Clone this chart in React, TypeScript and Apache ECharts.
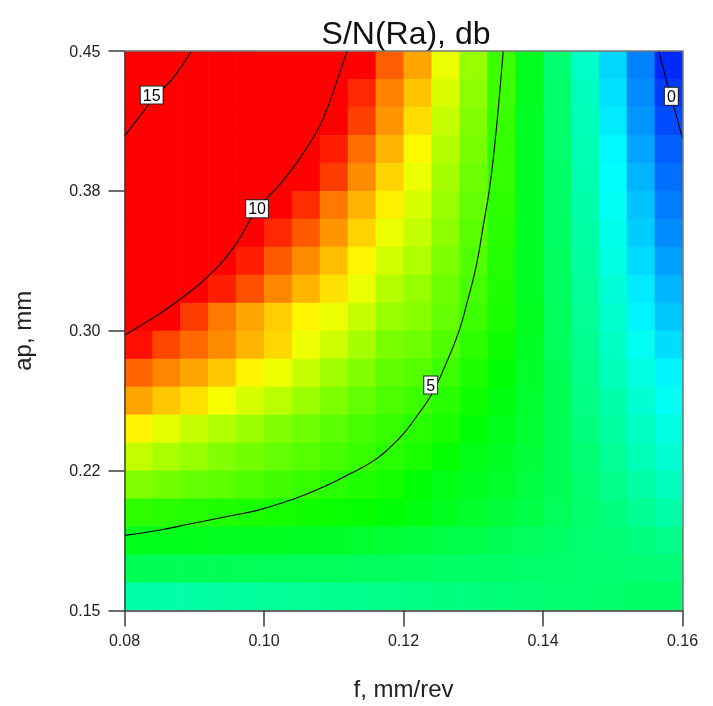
import React, { useEffect, useRef } from "react";
import * as echarts from "echarts";

// Grid of cell centres (feed f in mm/rev, depth of cut ap in mm); rows listed top (ap high) to bottom
const fCenters = [0.082, 0.086, 0.09, 0.094, 0.098, 0.102, 0.106, 0.11, 0.114, 0.118, 0.122, 0.126, 0.13, 0.134, 0.138, 0.142, 0.146, 0.15, 0.154, 0.158];
const apCenters = [0.4425, 0.4275, 0.4125, 0.3975, 0.3825, 0.3675, 0.3525, 0.3375, 0.3225, 0.3075, 0.2925, 0.2775, 0.2625, 0.2475, 0.2325, 0.2175, 0.2025, 0.1875, 0.1725, 0.1575];

// S/N(Ra) in dB for every cell, one row per apCenters entry
const snRows = [
  [16.4, 15.5, 14.6, 13.75, 12.9, 12.0, 11.1, 10.25, 9.7, 8.66, 7.97, 6.88, 6.04, 5.14, 4.25, 3.46, 2.57, 1.63, 0.79, -0.1],
  [15.6, 14.8, 14.0, 13.2, 12.4, 11.6, 10.8, 9.97, 9.2, 8.31, 7.67, 6.68, 5.94, 5.14, 4.25, 3.51, 2.67, 1.73, 0.89, 0.09],
  [14.95, 14.2, 13.45, 12.7, 11.95, 11.2, 10.45, 9.7, 8.96, 8.12, 7.42, 6.48, 5.84, 5.09, 4.2, 3.51, 2.72, 1.83, 0.99, 0.24],
  [14.3, 13.6, 12.9, 12.15, 11.45, 10.7, 10.0, 9.3, 8.51, 7.82, 7.13, 6.33, 5.74, 5.05, 4.2, 3.51, 2.77, 1.98, 1.13, 0.44],
  [13.6, 12.9, 12.25, 11.55, 10.85, 10.2, 9.65, 9.01, 8.21, 7.52, 6.88, 6.18, 5.64, 5.05, 4.2, 3.56, 2.82, 2.03, 1.28, 0.59],
  [12.9, 12.25, 11.6, 10.95, 10.3, 9.7, 9.15, 8.41, 7.82, 7.22, 6.68, 6.04, 5.54, 5.0, 4.2, 3.56, 2.87, 2.12, 1.43, 0.74],
  [12.25, 11.65, 11.05, 10.45, 9.85, 9.2, 8.71, 8.12, 7.52, 6.88, 6.48, 5.94, 5.44, 4.95, 4.2, 3.56, 2.92, 2.22, 1.53, 0.89],
  [11.55, 11.0, 10.5, 9.99, 9.3, 8.71, 8.21, 7.72, 7.17, 6.63, 6.28, 5.79, 5.34, 4.9, 4.2, 3.61, 2.97, 2.32, 1.68, 1.08],
  [10.85, 10.4, 9.97, 9.3, 8.81, 8.26, 7.82, 7.37, 6.88, 6.33, 6.04, 5.64, 5.24, 4.85, 4.2, 3.61, 3.02, 2.42, 1.83, 1.28],
  [10.25, 9.75, 9.01, 8.41, 7.97, 7.57, 7.17, 6.88, 6.53, 6.04, 5.89, 5.54, 5.14, 4.8, 4.25, 3.66, 3.07, 2.52, 1.93, 1.48],
  [9.45, 8.91, 8.56, 8.21, 7.82, 7.47, 6.93, 6.58, 6.18, 5.74, 5.64, 5.34, 5.0, 4.7, 4.2, 3.66, 3.11, 2.62, 2.17, 1.7],
  [8.61, 8.26, 7.97, 7.62, 7.17, 6.93, 6.53, 6.13, 5.84, 5.49, 5.39, 5.14, 4.85, 4.5, 4.15, 3.71, 3.21, 2.72, 2.32, 1.95],
  [7.97, 7.62, 7.37, 6.98, 6.68, 6.38, 6.08, 5.79, 5.54, 5.29, 5.14, 4.95, 4.7, 4.4, 4.1, 3.71, 3.26, 2.87, 2.47, 2.12],
  [7.17, 6.83, 6.53, 6.28, 6.08, 5.84, 5.64, 5.44, 5.24, 5.09, 4.95, 4.8, 4.5, 4.3, 4.05, 3.71, 3.31, 2.97, 2.62, 2.32],
  [6.48, 6.23, 6.04, 5.84, 5.69, 5.54, 5.39, 5.24, 5.09, 4.95, 4.8, 4.6, 4.35, 4.2, 4.0, 3.71, 3.41, 3.07, 2.77, 2.47],
  [5.84, 5.69, 5.54, 5.44, 5.34, 5.19, 5.09, 4.95, 4.85, 4.75, 4.5, 4.35, 4.25, 4.1, 3.96, 3.71, 3.46, 3.17, 2.92, 2.67],
  [5.0, 4.95, 4.9, 4.85, 4.8, 4.75, 4.7, 4.65, 4.6, 4.5, 4.4, 4.25, 4.12, 4.0, 3.86, 3.68, 3.5, 3.3, 3.1, 2.9],
  [4.3, 4.28, 4.26, 4.24, 4.22, 4.2, 4.17, 4.13, 4.08, 4.02, 3.95, 3.88, 3.8, 3.72, 3.64, 3.55, 3.46, 3.37, 3.28, 3.2],
  [3.72, 3.72, 3.71, 3.7, 3.69, 3.68, 3.67, 3.66, 3.64, 3.62, 3.6, 3.58, 3.56, 3.54, 3.52, 3.5, 3.47, 3.44, 3.41, 3.38],
  [2.87, 2.9, 2.93, 2.97, 3.0, 3.04, 3.08, 3.12, 3.16, 3.2, 3.24, 3.28, 3.32, 3.36, 3.4, 3.44, 3.47, 3.5, 3.53, 3.55],
];

// Contour lines: [f, ap] points
const contour15 = [[0.0896, 0.45], [0.087, 0.4357], [0.0845, 0.4259], [0.0822, 0.4151], [0.08, 0.4044]];
const contour10 = [[0.1119, 0.45], [0.1105, 0.4344], [0.1086, 0.4147], [0.1074, 0.4058], [0.1053, 0.3933], [0.1024, 0.379], [0.099, 0.365], [0.0957, 0.345], [0.0919, 0.3289], [0.0881, 0.3173], [0.0847, 0.3083], [0.0816, 0.3012], [0.08, 0.2976]];
const contour5 = [[0.1343, 0.45], [0.1337, 0.4237], [0.133, 0.3969], [0.1323, 0.3754], [0.1315, 0.3577], [0.1304, 0.3342], [0.1292, 0.3164], [0.128, 0.3003], [0.1263, 0.2842], [0.1241, 0.2663], [0.122, 0.2547], [0.1201, 0.2452], [0.118, 0.2372], [0.1158, 0.2305], [0.1124, 0.2234], [0.1076, 0.2147], [0.1038, 0.2092], [0.099, 0.2037], [0.0943, 0.2001], [0.0895, 0.1965], [0.0847, 0.1929], [0.08, 0.1903]];
const contour0 = [[0.1566, 0.45], [0.1578, 0.4327], [0.1589, 0.4183], [0.16, 0.4032]];
const labelF = [0.0839, 0.099, 0.1239, 0.1584];
const labelAp = [0.4264, 0.3654, 0.2709, 0.4257];
const labelText = ["15", "10", "5", "0"];

const fTickLabels = ["0.08", "0.10", "0.12", "0.14", "0.16"];
const apTickLabels = ["0.15", "0.22", "0.30", "0.38", "0.45"];

const FONT = "'Liberation Sans', Arial, sans-serif";

export default function App() {
  const ref = useRef<HTMLDivElement>(null);
  useEffect(() => {
    if (!ref.current) return;
    const chart = echarts.init(ref.current, null, { renderer: "svg" });
    const cells: number[][] = [];
    apCenters.forEach((ap, r) => {
      fCenters.forEach((f, c) => {
        cells.push([f, ap, snRows[r][c]]);
      });
    });
    const halfW = (fCenters[1] - fCenters[0]) / 2;
    const halfH = (apCenters[0] - apCenters[1]) / 2;
    const axisColor = "#3c3c3c";
    const contourSeries = (data: number[][]) => ({
      type: "line",
      data,
      smooth: 0.5,
      symbol: "none",
      silent: true,
      z: 4,
      lineStyle: { color: "#000", width: 1.1 },
    });
    chart.setOption({
      animation: false,
      title: {
        text: "S/N(Ra), db",
        left: 401,
        top: 12,
        textAlign: "center",
        textStyle: { fontFamily: FONT, fontSize: 32, fontWeight: "normal", color: "#111" },
      },
      grid: { left: 124.5, top: 51, width: 558, height: 559.5, outerBoundsMode: "none", containLabel: false },
      visualMap: {
        type: "continuous",
        show: false,
        min: -0.5,
        max: 9.6,
        dimension: 2,
        seriesIndex: 0,
        inRange: { color: ["#0000ff", "#00ffff", "#00ff00", "#ffff00", "#ff0000"] },
      },
      xAxis: [
        {
          type: "value",
          min: 0.08,
          max: 0.16,
          interval: 0.02,
          z: 10,
          name: "f, mm/rev",
          nameLocation: "middle",
          nameGap: 66,
          nameTextStyle: { fontFamily: FONT, fontSize: 24, color: "#222" },
          axisLine: { show: true, lineStyle: { color: axisColor, width: 1.5 } },
          axisTick: { show: true, length: 16, lineStyle: { color: axisColor, width: 1.5 } },
          axisLabel: {
            fontFamily: FONT,
            fontSize: 16,
            color: "#222",
            margin: 22,
            formatter: (v: number) => fTickLabels[Math.round((v - 0.08) / 0.02)] ?? "",
          },
          splitLine: { show: false },
        },
        {
          type: "value",
          position: "top",
          min: 0.08,
          max: 0.16,
          z: 10,
          axisLine: { show: true, lineStyle: { color: "#777", width: 1.5 } },
          axisTick: { show: false },
          axisLabel: { show: false },
          splitLine: { show: false },
        },
      ],
      yAxis: [
        {
          type: "value",
          min: 0.15,
          max: 0.45,
          interval: 0.075,
          z: 10,
          name: "ap, mm",
          nameLocation: "middle",
          nameGap: 90,
          nameRotate: 90,
          nameTextStyle: { fontFamily: FONT, fontSize: 24, color: "#222" },
          axisLine: { show: true, lineStyle: { color: axisColor, width: 1.5 } },
          axisTick: { show: true, length: 16, lineStyle: { color: axisColor, width: 1.5 } },
          axisLabel: {
            fontFamily: FONT,
            fontSize: 16,
            color: "#222",
            margin: 24,
            formatter: (v: number) => apTickLabels[Math.round((v - 0.15) / 0.075)] ?? "",
          },
          splitLine: { show: false },
        },
        {
          type: "value",
          position: "right",
          min: 0.15,
          max: 0.45,
          z: 10,
          axisLine: { show: true, lineStyle: { color: "#777", width: 1.5 } },
          axisTick: { show: false },
          axisLabel: { show: false },
          splitLine: { show: false },
        },
      ],
      series: [
        {
          type: "custom",
          data: cells,
          encode: { x: 0, y: 1 },
          clip: true,
          silent: true,
          z: 1,
          renderItem: (params: any, api: any) => {
            const f = api.value(0);
            const ap = api.value(1);
            const p0 = api.coord([f - halfW, ap + halfH]);
            const p1 = api.coord([f + halfW, ap - halfH]);
            return {
              type: "rect",
              shape: { x: p0[0], y: p0[1], width: p1[0] - p0[0] + 0.6, height: p1[1] - p0[1] + 0.6 },
              style: { fill: api.visual("color") },
            };
          },
        },
        contourSeries(contour15),
        contourSeries(contour10),
        contourSeries(contour5),
        contourSeries(contour0),
        {
          type: "custom",
          data: labelF.map((f, i) => [f, labelAp[i]]),
          encode: { x: 0, y: 1 },
          silent: true,
          z: 6,
          renderItem: (params: any, api: any) => {
            const p = api.coord([api.value(0), api.value(1)]);
            return {
              type: "text",
              x: p[0],
              y: p[1],
              style: {
                text: labelText[params.dataIndex],
                fontFamily: FONT,
                fontSize: 16,
                lineHeight: 16,
                fill: "#000",
                align: "center",
                verticalAlign: "middle",
                backgroundColor: "#fff",
                borderColor: "#222",
                borderWidth: 1,
                padding: [1, 2, 0, 2],
              },
            };
          },
        },
      ],
    });
    return () => chart.dispose();
  }, []);
  return <div ref={ref} style={{ position: "fixed", left: 0, top: 0, width: 713, height: 706 }} />;
}
